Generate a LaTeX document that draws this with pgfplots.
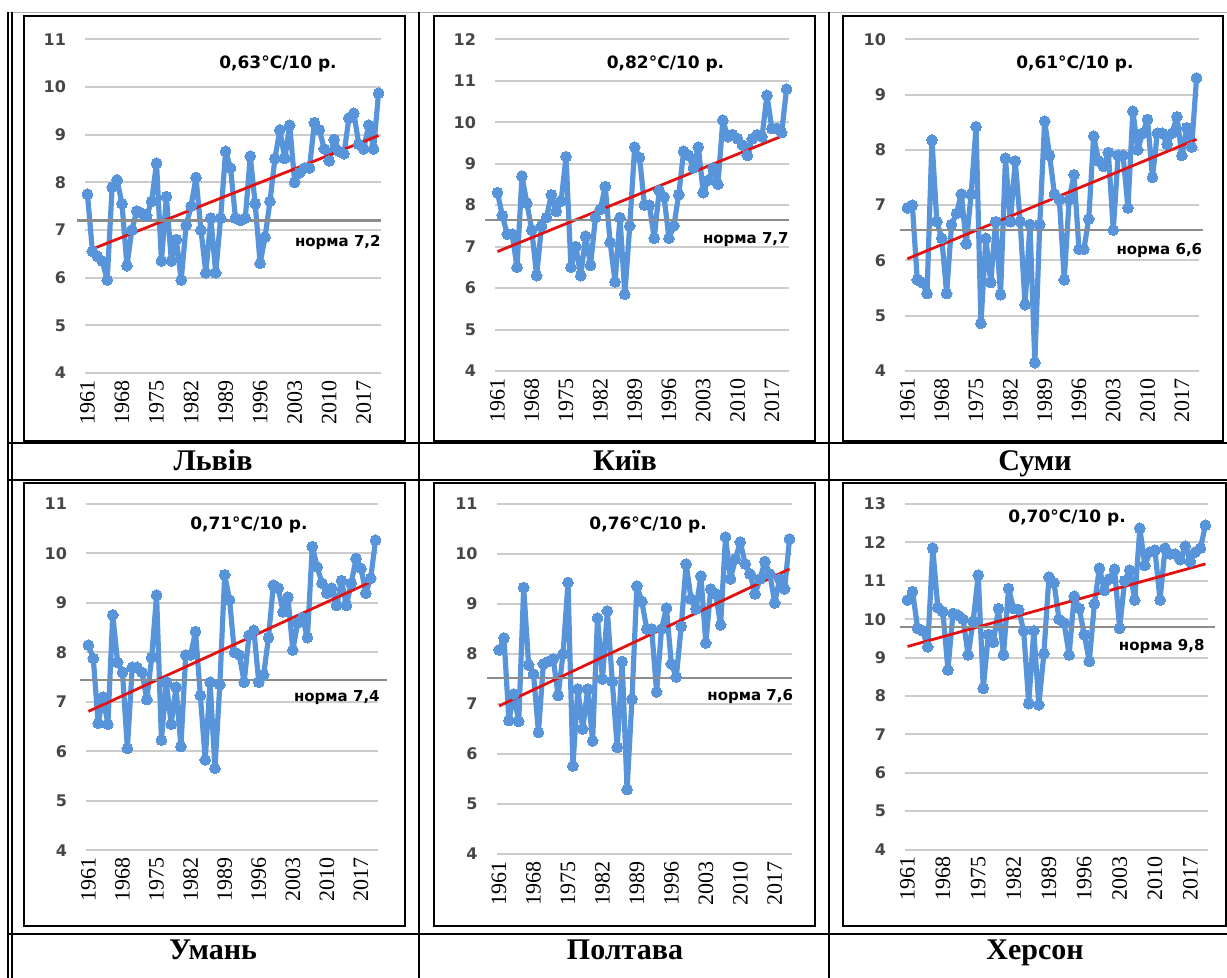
\documentclass[border=0pt]{standalone}
\usepackage{fontspec}
\setmainfont{Liberation Serif}
\newfontfamily\dv{DejaVu Sans}
\usepackage{pgfplots}
\usepackage{pgfplotstable}
\pgfplotsset{compat=1.18}
\definecolor{serblue}{RGB}{88,148,218}
\definecolor{trendred}{RGB}{226,18,18}
\definecolor{ticktxt}{RGB}{70,70,70}

\pgfplotstableread{
year lviv kyiv sumy uman poltava kherson
1961 7.75 8.30 6.95 8.15 8.08 10.50
1962 6.55 7.75 7.00 7.88 8.32 10.72
1963 6.45 7.30 5.65 6.57 6.67 9.76
1964 6.35 7.30 5.60 7.10 7.20 9.70
1965 5.95 6.50 5.40 6.55 6.65 9.28
1966 7.90 8.70 8.18 8.76 9.33 11.85
1967 8.05 8.05 6.70 7.80 7.78 10.30
1968 7.55 7.40 6.40 7.60 7.60 10.20
1969 6.25 6.30 5.40 6.06 6.43 8.68
1970 7.00 7.50 6.65 7.70 7.80 10.15
1971 7.40 7.70 6.85 7.70 7.85 10.10
1972 7.35 8.25 7.20 7.60 7.90 10.00
1973 7.30 7.85 6.30 7.05 7.17 9.07
1974 7.60 8.10 7.20 7.90 8.00 9.95
1975 8.40 9.17 8.42 9.16 9.43 11.15
1976 6.35 6.50 4.86 6.23 5.76 8.20
1977 7.70 7.00 6.40 7.40 7.30 9.60
1978 6.35 6.30 5.60 6.55 6.50 9.40
1979 6.80 7.25 6.70 7.30 7.30 10.28
1980 5.95 6.55 5.38 6.10 6.26 9.07
1981 7.10 7.70 7.85 7.95 8.72 10.80
1982 7.50 7.90 6.70 7.95 7.50 10.28
1983 8.10 8.45 7.80 8.42 8.86 10.25
1984 7.00 7.10 6.70 7.13 7.45 9.70
1985 6.10 6.15 5.20 5.83 6.13 7.80
1986 7.25 7.70 6.65 7.40 7.85 9.70
1987 6.10 5.85 4.15 5.66 5.29 7.77
1988 7.25 7.50 6.65 7.35 7.10 9.10
1989 8.65 9.40 8.52 9.57 9.36 11.10
1990 8.30 9.15 7.90 9.06 9.05 10.95
1991 7.25 8.00 7.20 8.00 8.50 10.00
1992 7.20 8.00 7.10 7.95 8.50 9.90
1993 7.25 7.20 5.65 7.40 7.24 9.07
1994 8.55 8.35 7.10 8.35 8.50 10.60
1995 7.55 8.20 7.55 8.45 8.92 10.28
1996 6.30 7.20 6.20 7.40 7.80 9.60
1997 6.85 7.50 6.20 7.55 7.54 8.90
1998 7.60 8.25 6.75 8.30 8.55 10.40
1999 8.50 9.30 8.25 9.36 9.80 11.33
2000 9.10 9.20 7.80 9.30 9.10 10.75
2001 8.50 8.90 7.70 8.82 8.90 11.05
2002 9.20 9.40 7.95 9.12 9.56 11.30
2003 8.00 8.30 6.55 8.05 8.22 9.76
2004 8.20 8.60 7.90 8.60 9.30 11.00
2005 8.30 8.90 7.90 8.70 9.20 11.28
2006 8.30 8.50 6.95 8.30 8.58 10.50
2007 9.25 10.05 8.70 10.14 10.34 12.37
2008 9.10 9.65 8.00 9.73 9.50 11.40
2009 8.70 9.70 8.30 9.40 9.90 11.75
2010 8.45 9.60 8.55 9.20 10.24 11.80
2011 8.90 9.45 7.50 9.30 9.80 10.50
2012 8.65 9.20 8.30 8.95 9.60 11.85
2013 8.60 9.60 8.30 9.45 9.20 11.70
2014 9.35 9.70 8.10 8.95 9.50 11.70
2015 9.45 9.65 8.30 9.40 9.85 11.55
2016 8.80 10.65 8.60 9.90 9.60 11.90
2017 8.70 9.85 7.90 9.70 9.02 11.50
2018 9.20 9.85 8.40 9.20 9.50 11.75
2019 8.70 9.75 8.05 9.50 9.30 11.85
2020 9.87 10.80 9.30 10.27 10.30 12.45
}\data

\pgfplotsset{
  panel/.style={
    scale only axis, anchor=south west, clip=false,
    xmin=1960.5, xmax=2020.5, enlargelimits=false,
    xtick={1961,1968,...,2017},
    axis line style={draw=none}, tick style={draw=none},
    ymajorgrids, major grid style={gray!40, line width=1pt},
    /pgf/number format/assume math mode=true,
    /pgf/number format/1000 sep={},
    xticklabel style={rotate=90, anchor=east, font=\fontsize{11}{11}\selectfont, text=black},
    yticklabel style={font=\dv\bfseries\fontsize{8}{8}\selectfont, text=ticktxt, xshift=-6pt},
  },
  ser/.style={serblue, line width=2.6pt, line join=round, mark=*, mark size=2.7pt, mark options={fill=serblue, draw=serblue, line width=0pt}},
  trend/.style={trendred, line width=1.4pt},
  norm/.style={black!45, line width=1.1pt},
}
\tikzset{
  ttl/.style={font=\dv\bfseries\fontsize{8.5}{10}\selectfont, text=black},
  nrm/.style={font=\dv\bfseries\fontsize{7.5}{9}\selectfont, text=black, anchor=east, inner sep=0pt},
  capt/.style={font=\bfseries\fontsize{15}{17}\selectfont, anchor=base},
}

\begin{document}
\begin{tikzpicture}
\path[use as bounding box] (0,0) rectangle (613.5pt,489pt);
\begin{scope}[shift={(0pt,489pt)}, x=0.5pt, y=-0.5pt]
  % table lines
  \draw[gray!60, line width=0.4pt] (9,12) -- (1227,12);
  \draw[black, line width=0.6pt] (8,12) -- (8,978);
  \draw[black, line width=0.6pt] (12,12) -- (12,978);
  \draw[black, line width=0.6pt] (419,12) -- (419,978);
  \draw[black, line width=0.6pt] (829,12) -- (829,978);
  \draw[black, line width=0.6pt] (8,443) -- (1227,443);
  \draw[black, line width=0.6pt] (8,480) -- (1227,480);
  \draw[black, line width=0.6pt] (8,934) -- (1227,934);
  % chart frames
  \draw[black, line width=1pt] (24,16) rectangle (405,441);
  \draw[black, line width=1.4pt] (434,16) rectangle (815,441);
  \draw[black, line width=1pt] (843,16) rectangle (1223,441);
  \draw[black, line width=1pt] (24,483) rectangle (405,926);
  \draw[black, line width=1.2pt] (434,483) rectangle (815,926);
  \draw[black, line width=1.2pt] (843,483) rectangle (1226,926);
  % captions
  \node[capt] at (213,471) {Львів};
  \node[capt] at (625,471) {Київ};
  \node[capt] at (1035,471) {Суми};
  \node[capt] at (213,960) {Умань};
  \node[capt] at (625,960) {Полтава};
  \node[capt] at (1035,960) {Херсон};
\end{scope}

% Lviv
\begin{axis}[panel, at={(42.5pt,302.5pt)}, width=148pt, height=166.85pt, ymin=4, ymax=11, ytick={4,...,11}]
\addplot[ser] table[x=year, y=lviv] {\data};
\addplot[trend] coordinates {(1961,6.56) (2020,8.98)};
\addplot[norm] coordinates {(1958.9,7.2) (2020.5,7.2)};
\node[ttl] at (rel axis cs:0.652,0.926) {0,63°C/10 р.};
\node[nrm] at (rel axis cs:1.0,0.39) {норма 7,2};
\end{axis}

% Kyiv
\begin{axis}[panel, at={(247.5pt,303.5pt)}, width=147pt, height=165.85pt, ymin=4, ymax=12, ytick={4,...,12}]
\addplot[ser] table[x=year, y=kyiv] {\data};
\addplot[trend] coordinates {(1961,6.88) (2020,9.71)};
\addplot[norm] coordinates {(1958.5,7.65) (2020.5,7.65)};
\node[ttl] at (rel axis cs:0.58,0.925) {0,82°C/10 р.};
\node[nrm] at (rel axis cs:1.0,0.395) {норма 7,7};
\end{axis}

% Sumy
\begin{axis}[panel, at={(452.5pt,303.5pt)}, width=147pt, height=165.85pt, ymin=4, ymax=10, ytick={4,...,10}]
\addplot[ser] table[x=year, y=sumy] {\data};
\addplot[trend] coordinates {(1961,6.03) (2020,8.19)};
\addplot[norm] coordinates {(1959.5,6.55) (2021.3,6.55)};
\node[ttl] at (rel axis cs:0.578,0.925) {0,61°C/10 р.};
\node[nrm] at (rel axis cs:1.012,0.362) {норма 6,6};
\end{axis}

% Uman
\begin{axis}[panel, at={(43pt,63.75pt)}, width=146pt, height=173.25pt, ymin=4, ymax=11, ytick={4,...,11}]
\addplot[ser] table[x=year, y=uman] {\data};
\addplot[trend] coordinates {(1961,6.81) (2020,9.47)};
\addplot[norm] coordinates {(1959.3,7.44) (2022.3,7.44)};
\node[ttl] at (rel axis cs:0.558,0.94) {0,71°C/10 р.};
\node[nrm] at (rel axis cs:1.007,0.44) {норма 7,4};
\end{axis}

% Poltava
\begin{axis}[panel, at={(248.3pt,62pt)}, width=147.7pt, height=175pt, ymin=4, ymax=11, ytick={4,...,11}]
\addplot[ser] table[x=year, y=poltava] {\data};
\addplot[trend] coordinates {(1961,6.96) (2020,9.70)};
\addplot[norm] coordinates {(1958.5,7.52) (2020.5,7.52)};
\node[ttl] at (rel axis cs:0.513,0.939) {0,76°C/10 р.};
\node[nrm] at (rel axis cs:1.005,0.451) {норма 7,6};
\end{axis}

% Kherson
\begin{axis}[panel, at={(452.5pt,64.2pt)}, width=151.5pt, height=172.8pt, ymin=4, ymax=13, ytick={4,...,13}]
\addplot[ser] table[x=year, y=kherson] {\data};
\addplot[trend] coordinates {(1961,9.29) (2020,11.44)};
\addplot[norm] coordinates {(1959.5,9.8) (2021.9,9.8)};
\node[ttl] at (rel axis cs:0.535,0.96) {0,70°C/10 р.};
\node[nrm] at (rel axis cs:0.99,0.587) {норма 9,8};
\end{axis}
\end{tikzpicture}
\end{document}
